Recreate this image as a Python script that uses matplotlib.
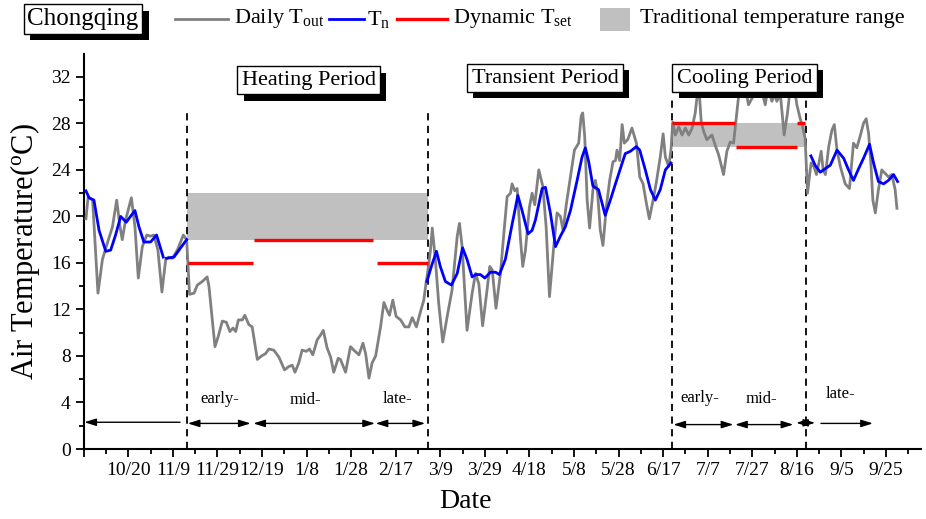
import numpy as np
import matplotlib
matplotlib.use('Agg')
import matplotlib.pyplot as plt
from matplotlib.lines import Line2D
from matplotlib.patches import Rectangle
import matplotlib.patheffects as pe

plt.rcParams['font.family'] = 'Liberation Serif'
plt.rcParams['mathtext.fontset'] = 'custom'
plt.rcParams['mathtext.rm'] = 'Liberation Serif'
plt.rcParams['mathtext.it'] = 'Liberation Serif:italic'

# x = days since 9/30
tick_days = list(range(0, 361, 20))
tick_labels = ['', '10/20', '11/9', '11/29', '12/19', '1/8', '1/28', '2/17', '3/9',
               '3/29', '4/18', '5/8', '5/28', '6/17', '7/7', '7/27', '8/16', '9/5', '9/25']

# daily outdoor temperature
tout_day = [1, 2, 4, 6.4, 8.4, 10.6, 12.9, 14.8, 16.3, 17.3, 18.8, 21.4, 23, 24.5, 26.3, 28.3,
            30, 31.5, 33.3, 35.1, 36.8, 38.3, 39.8, 42, 44.7, 46.2,
            47.5, 49.5, 51, 53.2, 55.4, 56.2, 58.9, 60.4, 62.2, 64, 65.6, 67, 68.2, 69.4,
            71.2, 72.3, 74.1, 75.6, 77.9, 79.8, 81.6, 83.1, 85.3, 87.6, 90.1, 92.1, 93.6,
            94.8, 96.5, 98, 99.9, 101.3, 102.8, 104.8, 106.3, 107.5, 109.2, 110.8, 112.2,
            114.2, 115.2, 117.5, 119.7, 121.2, 123.5, 125.3, 126.5, 128, 129.4, 131, 133.2,
            134.7, 136.2, 137.2, 138.7, 140.2, 142.2, 144.1, 145.9, 147.4, 149.3, 151.1,
            152.6, 153.7, 154.5,
            155.6, 156.4, 157.8, 159.3, 161.1, 163.1, 165.3, 167.6, 168.6, 169.8, 172,
            174.3, 175.8, 177.3, 179, 181, 182.2, 183.3, 185, 187, 188.5, 190, 191.5, 192.2,
            193.4, 194.5, 196, 197, 198.2, 200, 201.2, 202.4, 204.2, 206, 207.5, 209, 210.9,
            212.4, 213.9, 215.1, 216.6, 218.4, 220.2, 222.1, 223.2, 223.9, 224.8, 225.9,
            227, 228.5, 229.6, 230.6, 231.8, 233, 234.5, 236, 237.5, 238.6, 239.3, 240.5,
            241.6, 242.6, 244.1, 246, 248, 249.5, 251, 252.5, 253.8, 255.5, 257, 258.7, 260,
            261, 262.5, 263.5,
            264.3, 265.5, 267, 268.5, 270, 271.5, 273, 274.4, 275.9, 277.1, 278.2, 279.6,
            281.9, 283.4, 284.9, 287.1, 288.6, 290.1, 291.6, 293.1, 294.5, 296, 298.3, 300,
            302, 304, 305.8, 307, 308.8, 310, 311, 312.6, 314.3, 315.8, 317, 318.5, 320,
            321.5, 322.6, 323.7,
            324.8, 325.8, 326.4, 327.6, 328.8, 329.9, 330.9, 331.8, 332.8, 334.3, 335.7,
            336.8, 338, 339.5, 341.7, 343.6, 345.4, 346.9, 348.4, 349.9, 351.1, 352.2, 353.2,
            354.1, 355.2, 356.6, 358.1, 359.6, 361.1, 362.6, 364.1, 364.9]
tout_val = [19.8, 21.7, 21.4, 13.4, 16.3, 17.7, 19.1, 21.4, 19.1, 18.0, 19.7, 21.6, 19.1, 14.7,
            17.4, 18.4, 18.3, 18.4, 17.1, 13.5, 16.3, 16.5, 16.4, 17.1, 18.4, 18.0,
            13.3, 13.4, 14.1, 14.4, 14.8, 14.0, 8.8, 9.7, 11.0, 10.9, 10.1, 10.4, 10.1, 11.1,
            11.1, 11.5, 10.7, 10.5, 7.7, 8.0, 8.2, 8.6, 8.5, 7.9, 6.8, 7.1, 7.2,
            6.6, 7.4, 8.5, 8.4, 8.6, 8.1, 9.4, 9.8, 10.2, 8.7, 7.9, 6.6,
            7.8, 7.7, 6.6, 8.8, 8.5, 8.1, 9.1, 8.2, 6.1, 7.4, 8.0, 10.5,
            12.6, 11.9, 11.5, 12.8, 11.4, 11.1, 10.5, 10.5, 11.3, 10.5, 11.8,
            12.8, 14.4, 15.4,
            17.1, 19.0, 16.3, 12.5, 9.2, 11.4, 13.7, 18.3, 19.4, 17.4, 10.2,
            13.4, 15.1, 14.2, 10.6, 13.7, 15.7, 15.4, 12.1, 15.1, 18.5, 21.7, 22.0, 22.8,
            22.2, 22.4, 18.0, 15.7, 17.1, 20.8, 22.0, 21.0, 24.0, 22.6, 19.1, 13.1, 17.4,
            20.3, 20.0, 18.8, 21.1, 23.4, 25.7, 26.3, 28.6, 28.9, 26.9, 21.4,
            19.0, 22.3, 23.1, 22.0, 18.8, 17.5, 20.8, 23.1, 24.7, 24.8, 25.7, 24.8,
            27.9, 26.3, 26.6, 27.6, 26.3, 23.4, 22.8, 21.1, 19.8, 21.4, 23.0, 25.1, 27.1,
            25.1, 24.3, 25.7,
            28.1, 27.0, 27.7, 27.0, 27.6, 27.0, 27.6, 28.9, 31.5, 28.1, 27.3, 26.6,
            27.0, 26.1, 25.3, 23.6, 25.6, 26.4, 26.3, 29.0, 31.5, 32.0, 29.6, 30.2,
            32.0, 31.0, 29.6, 31.0, 29.9, 30.5, 29.9, 30.5, 27.0, 28.9, 31.0, 31.5, 29.6,
            28.4, 27.7, 26.7,
            22.0, 23.7, 24.6, 24.3, 23.6, 24.6, 25.6, 24.0, 23.6, 26.0, 27.4,
            27.9, 25.7, 24.3, 22.8, 22.4, 26.3, 25.9, 26.9, 28.0, 28.4, 27.1, 24.6,
            21.4, 20.3, 22.3, 24.0, 23.7, 23.4, 23.6, 22.3, 20.7]

# neutral temperature Tn (nan = not shown)
tn_day = [1, 2.4, 4.6, 6.9, 9.9, 12.1, 14.3, 16.6, 19.1, 21, 23, 24.8, 27, 30, 32.7, 35.7,
          36.4, 37.2, 40.5, 43.5, 46.2,
          100,
          154, 156, 158.3, 160, 162.3, 165, 167.6, 170, 172, 174.3, 176, 178, 180, 182.5,
          184.8, 186.5, 189.2, 192, 194.8, 196.7, 199.4, 201.2, 202.7, 205.7, 207.2, 209.4,
          211.7, 213.9, 216.1, 218.4, 221.4, 223.6, 225.1, 226.6, 228.5, 231, 234, 236.3,
          238.6, 240.8, 243, 245.3, 248, 249.5, 252, 254.3, 256.5, 258.7, 261, 263.5,
          290,
          326.3, 328.2, 330.5, 332.7, 335, 338, 341, 343.2, 345.4, 347.7, 349.9, 352.6,
          354.4, 356.6, 358.9, 361.1, 363.4, 365.2]
tn_val = [22.2, 21.6, 21.4, 18.8, 17.0, 17.1, 18.4, 20.0, 19.5, 20.0, 20.5, 19.1, 17.8, 17.8,
          18.4, 16.5, np.nan, 16.4, 16.5, 17.3, 18.0,
          np.nan,
          14.4, 15.7, 17.0, 15.7, 14.4, 14.1, 15.1, 17.3, 16.3, 14.8, 15.0, 15.0, 14.7, 15.2,
          15.2, 15.0, 16.3, 19.1, 21.8, 20.5, 18.5, 18.8, 19.7, 22.4, 22.5, 20.3,
          17.4, 18.3, 19.1, 20.5, 23.1, 25.1, 25.9, 24.7, 22.6, 22.3, 20.1, 21.4,
          22.8, 24.1, 25.4, 25.6, 26.0, 25.7, 24.0, 22.3, 21.4, 22.3, 24.0, 24.6,
          np.nan,
          25.2, 24.4, 23.8, 24.1, 24.4, 25.7, 25.0, 24.0, 23.1, 24.1, 25.0, 26.2,
          24.6, 23.0, 22.8, 23.1, 23.6, 23.0]

# dynamic set-point temperature segments
set_start = [46.7, 76.3, 131.6, 264.1, 292.6, 320.2]
set_end = [75.8, 129.7, 154.4, 292.3, 320.2, 323.7]
set_val = [16, 18, 16, 28, 26, 28]

# traditional temperature range (start, end, low, high)
band_start = [46.4, 263.6]
band_end = [154.5, 324.1]
band_low = [18, 26]
band_high = [22, 28]

# period boundaries
bound_day = [46.4, 154.5, 263.8, 324.1]
bound_top = [29.1, 29.1, 30, 30]

fig = plt.figure(figsize=(9.26, 5.19), dpi=100)
ax = fig.add_axes([83.7 / 926, 70 / 519, (921 - 83.7) / 926, 395.4 / 519])

for s, e, lo, hi in zip(band_start, band_end, band_low, band_high):
    ax.fill_between([s, e], lo, hi, color='#c0c0c0', lw=0, zorder=1)

ax.vlines(bound_day, 0, bound_top, colors='k', linestyles=(0, (4, 3)), lw=1.3, zorder=2)

ax.plot(tout_day, tout_val, color='#808080', lw=2, zorder=3, solid_joinstyle='round')
ax.plot(tn_day, tn_val, color='#0000ff', lw=2, zorder=4, solid_joinstyle='round')
ax.hlines(set_val, set_start, set_end, colors='#ff0000', lw=2.4, zorder=5)

# sub-period arrows
def arrow(x0, x1, y, style):
    ax.annotate('', xy=(x1, y), xytext=(x0, y),
                arrowprops=dict(arrowstyle=style + ',head_length=0.7,head_width=0.22',
                                color='k', lw=1, shrinkA=0, shrinkB=0, mutation_scale=10),
                zorder=6)

arrow(43.2, 0.3, 2.3, '-|>')
arrow(46.7, 74.9, 2.2, '<|-|>')
arrow(76.1, 130.7, 2.2, '<|-|>')
arrow(131.0, 153.2, 2.2, '<|-|>')
arrow(264.6, 291.5, 2.1, '<|-|>')
arrow(292.3, 318.4, 2.1, '<|-|>')
arrow(319.7, 328.2, 2.25, '<|-|>')
arrow(330.8, 354.1, 2.2, '-|>')

for x, y, s in [(61.1, 3.6, 'early-'), (99.3, 3.5, 'mid-'), (141, 3.6, 'late-'),
                (276.6, 3.7, 'early-'), (304.2, 3.6, 'mid-'), (339.4, 4.0, 'late-')]:
    ax.text(x, y, s, ha='center', va='bottom', fontsize=12, zorder=6)

def shadow_box(t):
    t.get_bbox_patch().set_path_effects([
        pe.SimplePatchShadow(offset=(4.5, -4.5), shadow_rgbFace='k', alpha=1.0),
        pe.Normal()])

for x, y, s in [(101, 31.7, 'Heating Period'), (207, 31.9, 'Transient Period'),
                (296.5, 31.9, 'Cooling Period')]:
    t = ax.text(x, y, s, ha='center', va='center', fontsize=16, zorder=10,
                bbox=dict(boxstyle='square,pad=0.2', fc='white', ec='k', lw=1))
    shadow_box(t)

ax.set_xlim(0, 375.7)
ax.set_ylim(0, 34)
ax.set_xticks(tick_days)
ax.set_xticklabels(tick_labels)
ax.set_xticks(np.arange(10, 376, 20), minor=True)
ax.set_yticks(np.arange(0, 33, 4))
ax.set_yticks(np.arange(2, 34, 4), minor=True)
ax.tick_params(which='both', direction='out', width=1.3, labelsize=14)
ax.tick_params(which='major', length=6)
ax.tick_params(which='minor', length=3.5)
ax.spines['top'].set_visible(False)
ax.spines['right'].set_visible(False)
for sp in ['left', 'bottom']:
    ax.spines[sp].set_linewidth(1.5)

ax.set_xlabel('Date', fontsize=20)
ax.xaxis.set_label_coords((465.7 - 83.7) / 837.3, -40 / 395.4)
ax.set_ylabel('Air Temperature($^{\\rm o}$C)', fontsize=22)
ax.yaxis.set_label_coords(-42 / 837.3, 0.5)

# top legend
ly = 1 - 19 / 519
t = fig.text(83 / 926, ly, 'Chongqing', ha='center', va='center', fontsize=18,
             bbox=dict(boxstyle='square,pad=0.15', fc='white', ec='k', lw=1))
shadow_box(t)
fig.add_artist(Line2D([175 / 926, 228 / 926], [ly, ly], color='#808080', lw=2))
fig.text(234 / 926, ly, 'Daily T$_{\\rm out}$', va='center', fontsize=16)
fig.add_artist(Line2D([329 / 926, 364 / 926], [ly, ly], color='#0000ff', lw=2))
fig.text(367 / 926, ly, 'T$_{\\rm n}$', va='center', fontsize=16)
fig.add_artist(Line2D([397 / 926, 447 / 926], [ly, ly], color='#ff0000', lw=2.4))
fig.text(453 / 926, ly, 'Dynamic T$_{\\rm set}$', va='center', fontsize=16)
fig.add_artist(Rectangle((600 / 926, 1 - 31 / 519), 30 / 926, 23 / 519,
                         transform=fig.transFigure, color='#c0c0c0', lw=0))
fig.text(640 / 926, ly, 'Traditional temperature range', va='center', fontsize=16)

fig.savefig('out.png', dpi=100)
